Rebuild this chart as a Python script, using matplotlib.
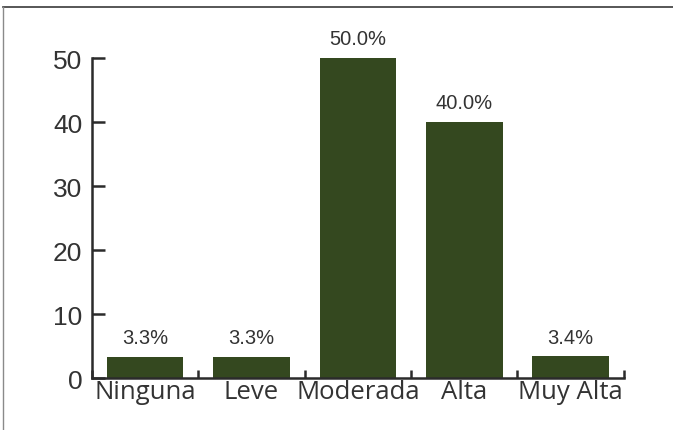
import matplotlib

matplotlib.use("Agg")
import matplotlib.pyplot as plt
from matplotlib.lines import Line2D

categories = ["Ninguna", "Leve", "Moderada", "Alta", "Muy Alta"]
values = [3.3, 3.3, 50.0, 40.0, 3.4]
labels = ["3.3%", "3.3%", "50.0%", "40.0%", "3.4%"]
y_ticks = [0, 10, 20, 30, 40, 50]

bar_color = "#34481f"
ink = "#2b2b2b"
text_ink = "#333333"

fig = plt.figure(figsize=(6.73, 4.31), dpi=100)
ax = fig.add_axes([0.1367, 0.1206, 0.7903, 0.7425])

x = list(range(len(categories)))
ax.bar(x, values, width=0.72, color=bar_color)

for xi, v, lab in zip(x, values, labels):
    ax.text(xi, v + 1.5, lab, ha="center", va="bottom", fontsize=14.5,
            color=text_ink, family="Liberation Sans", clip_on=False)

ax.set_xlim(-0.5, len(categories) - 0.5)
ax.set_ylim(0, 50)

# boundary ticks (no labels) + labels at centers
ax.set_xticks([i - 0.5 for i in range(len(categories) + 1)])
ax.set_xticklabels([])
ax.set_xticks(x, minor=True)
ax.set_xticklabels(categories, minor=True, fontsize=18.5, color=text_ink, family="Open Sans")
ax.tick_params(axis="x", which="major", direction="in", length=6, width=1.8, color=ink)
ax.tick_params(axis="x", which="minor", length=0, pad=1)

ax.set_yticks(y_ticks)
ax.set_yticklabels([str(t) for t in y_ticks], fontsize=19, color=text_ink, family="Liberation Sans")
ax.tick_params(axis="y", direction="in", length=9.5, width=1.8, color=ink, pad=7)

for side in ["top", "right"]:
    ax.spines[side].set_visible(False)
for side in ["left", "bottom"]:
    ax.spines[side].set_linewidth(1.8)
    ax.spines[side].set_color(ink)

# thin frame lines at top and left of the image
fig.add_artist(Line2D([0.004, 1.0], [0.981, 0.981], transform=fig.transFigure,
                      color="#3a3a3a", linewidth=1.2))
fig.add_artist(Line2D([0.004, 0.004], [0.0, 0.981], transform=fig.transFigure,
                      color="#8a8a8a", linewidth=1.0))

fig.savefig("out.png", dpi=100)
